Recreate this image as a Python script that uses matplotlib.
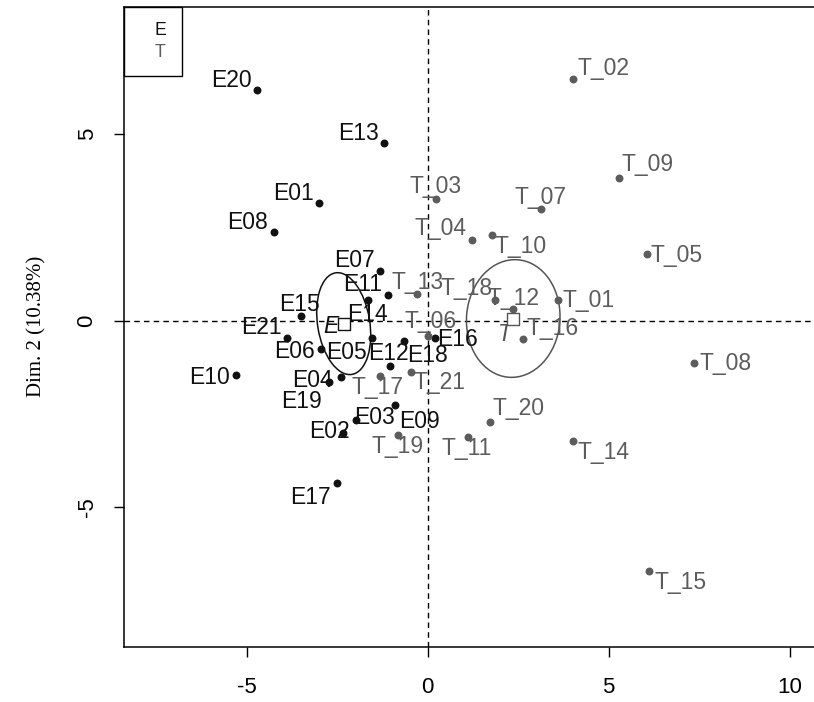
import matplotlib
matplotlib.use('Agg')
import matplotlib.pyplot as plt
import numpy as np
from matplotlib.patches import Ellipse
from matplotlib.lines import Line2D

plt.rcParams['axes.unicode_minus'] = False

# individuals of group E (Dim.1, Dim.2)
e_names = ['E01', 'E02', 'E03', 'E04', 'E05', 'E06', 'E07', 'E08', 'E09', 'E10', 'E11',
           'E12', 'E13', 'E14', 'E15', 'E16', 'E17', 'E18', 'E19', 'E20', 'E21']
e_x = [-2.99, -2.33, -1.99, -2.40, -1.53, -2.96, -1.32, -4.25, -0.90, -5.30, -1.09,
       -1.04, -1.20, -1.64, -3.51, 0.20, -2.51, -0.65, -2.72, -4.71, -3.90]
e_y = [3.15, -3.00, -2.66, -1.52, -0.47, -0.77, 1.34, 2.37, -2.26, -1.46, 0.70,
       -1.21, 4.76, 0.55, 0.12, -0.45, -4.36, -0.54, -1.64, 6.19, -0.47]

# individuals of group T
t_names = ['T_01', 'T_02', 'T_03', 'T_04', 'T_05', 'T_06', 'T_07', 'T_08', 'T_09', 'T_10', 'T_11',
           'T_12', 'T_13', 'T_14', 'T_15', 'T_16', 'T_17', 'T_18', 'T_19', 'T_20', 'T_21']
t_x = [3.61, 4.02, 0.23, 1.22, 6.05, 0.02, 3.13, 7.36, 5.28, 1.77, 1.10,
       2.35, -0.29, 4.02, 6.12, 2.62, -1.32, 1.87, -0.81, 1.72, -0.47]
t_y = [0.55, 6.49, 3.26, 2.16, 1.78, -0.41, 2.99, -1.14, 3.84, 2.30, -3.11,
       0.31, 0.72, -3.22, -6.71, -0.50, -1.47, 0.55, -3.06, -2.71, -1.37]

# confidence ellipses (semi axes, tilt in degrees)
ell_e = (0.72, 1.38, 9.6)
ell_t = (1.29, 1.58, -5.0)

y_title = 'Dim. 2 (10.38%)'

# where each label sits relative to its point (pixels: right, up)
e_shift = [(-26, 10), (-14, 1), (19, 2), (-28, -3), (-26, -14), (-26, -2), (-26, 10),
           (-26, 10), (24, -16), (-26, -2), (-26, 10), (-2, 12), (-26, 10), (-1, -14),
           (-1, 12), (23, -2), (-26, -14), (23, -15), (-28, -20), (-26, 9), (-25, 11)]
t_shift = [(30, 0), (30, 10), (0, 13), (-31, 12), (30, -1), (2, 15), (-1, 12),
           (31, 0), (29, 13), (29, -12), (-1, -12), (1, 11), (0, 11), (30, -12),
           (31, -12), (30, 11), (-2, -12), (-29, 12), (-1, -12), (29, 13), (29, -11)]

e_col = '#111111'
t_col = '#5c5c5c'
lab_font = ['Liberation Sans', 'DejaVu Sans']

fig = plt.figure(figsize=(8.14, 7.02), dpi=100)
ax = fig.add_axes([124 / 814, 55.3 / 702, 690 / 814, 640 / 702])

ax.axhline(0, color='black', ls=(0, (4, 3)), lw=1)
ax.axvline(0, color='black', ls=(0, (4, 3)), lw=1)

ax.scatter(e_x, e_y, s=22, color=e_col, zorder=3)
ax.scatter(t_x, t_y, s=22, color=t_col, zorder=3)

for n, x, y, d in zip(e_names, e_x, e_y, e_shift):
    ax.annotate(n, (x, y), xytext=d, textcoords='offset pixels', ha='center', va='center',
                fontsize=16.5, color=e_col, family=lab_font)
for n, x, y, d in zip(t_names, t_x, t_y, t_shift):
    ax.annotate(n, (x, y), xytext=d, textcoords='offset pixels', ha='center', va='center',
                fontsize=16.5, color=t_col, family=lab_font)

# group means with their ellipses
for xs, ys, ell, col, name, d in [(e_x, e_y, ell_e, '#111111', 'E', (-13, -3)),
                                  (t_x, t_y, ell_t, '#555555', 'T', (-8, -16))]:
    cx, cy = np.mean(xs), np.mean(ys)
    ax.add_patch(Ellipse((cx, cy), 2 * ell[0], 2 * ell[1], angle=ell[2],
                         fill=False, edgecolor=col, lw=1.1, zorder=2))
    ax.scatter([cx], [cy], marker='s', s=70, facecolor='white', edgecolor=col, lw=1, zorder=4)
    ax.annotate(name, (cx, cy), xytext=d, textcoords='offset pixels', ha='center', va='center',
                fontsize=16.5, color=col, style='italic', family=lab_font)

ax.set_xlim(-8.39, 10.67)
ax.set_ylim(-8.74, 8.42)
ax.set_xticks([-5, 0, 5, 10])
ax.set_yticks([-5, 0, 5])
ax.spines['right'].set_visible(False)
for s in ['left', 'top', 'bottom']:
    ax.spines[s].set_linewidth(1.1)

tick_font = ['Liberation Sans', 'DejaVu Sans']
ax.tick_params(axis='both', length=7, width=1, direction='out', labelsize=16)
ax.tick_params(axis='x', pad=15)
ax.tick_params(axis='y', pad=12)
for lab in ax.get_xticklabels():
    lab.set_family(tick_font)
for lab in ax.get_yticklabels():
    lab.set_family(tick_font)
    lab.set_rotation(90)
    lab.set_va('center')

ax.set_ylabel(y_title, family=['Liberation Serif', 'DejaVu Serif'], fontsize=15, labelpad=22)

handles = [Line2D([], [], ls='none'), Line2D([], [], ls='none')]
leg = ax.legend(handles, ['E', 'T'], loc='upper left', borderaxespad=0, fancybox=False,
                edgecolor='black', framealpha=1, handlelength=0.65, handletextpad=0.25,
                borderpad=0.85, labelspacing=0.3, prop={'family': lab_font, 'size': 12.7},
                labelcolor=[e_col, t_col])
leg.get_frame().set_linewidth(1)

fig.savefig('out.png', dpi=100)
